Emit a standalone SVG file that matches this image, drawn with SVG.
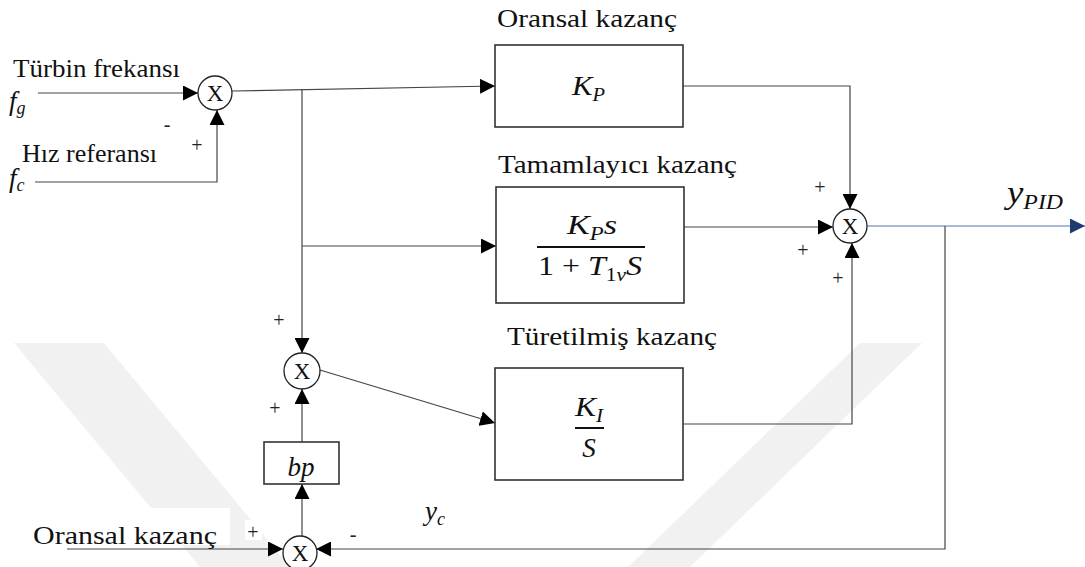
<svg xmlns="http://www.w3.org/2000/svg" width="1085" height="567" viewBox="0 0 1085 567">
  <defs>
    <style>
      .lbl { font-family: 'Liberation Serif', 'Times New Roman', serif; font-size: 25px; fill: #111; }
      .sign { font-family: 'Liberation Serif', 'Times New Roman', serif; font-size: 20px; fill: #222; text-anchor: middle; }
      .mul { font-family: 'Liberation Serif', 'Times New Roman', serif; font-size: 23px; fill: #111; text-anchor: middle; }
      .math { font-family: 'Liberation Serif', 'Times New Roman', serif; font-style: italic; font-size: 27px; fill: #111; }
      .up { font-style: normal; }
      .sub { font-size: 18px; }
      .box { fill: #fff; stroke: #333; stroke-width: 1.6; }
      .sum { fill: #fff; stroke: #222; stroke-width: 1.3; }
      .wire { fill: none; stroke: #454545; stroke-width: 1.2; }
      .bar { stroke: #111; stroke-width: 2; }
      .mark { fill: #f1f1f1; }
    </style>
    <marker id="arrow" viewBox="0 0 15 15" refX="15" refY="7.5" markerWidth="15" markerHeight="15" markerUnits="userSpaceOnUse" orient="auto">
      <path d="M0,0 L15,7.5 L0,15 Z" fill="#000"/>
    </marker>
    <marker id="arrowOut" viewBox="0 0 15 15" refX="15" refY="7.5" markerWidth="15" markerHeight="15" markerUnits="userSpaceOnUse" orient="auto">
      <path d="M0,0 L15,7.5 L0,15 Z" fill="#1f3a6e"/>
    </marker>
  </defs>

  <rect width="1085" height="567" fill="#fff"/>

  <!-- faint background emblem -->
  <g id="emblem">
    <polygon class="mark" points="14,343 104,343 290,567 200,567"/>
    <polygon class="mark" points="860,343 922,343 690,567 628,567"/>
  </g>

  <!-- connectors -->
  <g id="connectors">
    <path class="wire" d="M38,93 H198" marker-end="url(#arrow)"/>
    <path class="wire" d="M35,182 H217 V110" marker-end="url(#arrow)"/>
    <path class="wire" d="M232,91 L495,86" marker-end="url(#arrow)"/>
    <path class="wire" d="M302,89 V353" marker-end="url(#arrow)"/>
    <path class="wire" d="M302,246 H496" marker-end="url(#arrow)"/>
    <path class="wire" d="M683,86 H850 V209" marker-end="url(#arrow)"/>
    <path class="wire" d="M684,227 H833" marker-end="url(#arrow)"/>
    <path class="wire" d="M683,424 H852 V243" marker-end="url(#arrow)"/>
    <path d="M867,226 H1085" fill="none" stroke="#8fa3c6" stroke-width="1.4" marker-end="url(#arrowOut)"/>
    <path class="wire" d="M945,226 V549 H316" marker-end="url(#arrow)"/>
    <path class="wire" d="M67,549 H283" marker-end="url(#arrow)"/>
    <path class="wire" d="M302,536 V484" marker-end="url(#arrow)"/>
    <path class="wire" d="M302,442 V389" marker-end="url(#arrow)"/>
    <path class="wire" d="M320,370 L495,423" marker-end="url(#arrow)"/>
  </g>

  <!-- input labels -->
  <g id="inputs">
    <text class="lbl" x="13" y="77" textLength="167" lengthAdjust="spacingAndGlyphs">Türbin frekansı</text>
    <text class="math" x="9" y="110">f<tspan class="sub" dy="4">g</tspan></text>
    <text class="lbl" x="22" y="162" textLength="135" lengthAdjust="spacingAndGlyphs">Hız referansı</text>
    <text class="math" x="9" y="187">f<tspan class="sub" dy="4">c</tspan></text>
  </g>

  <!-- summing junction at the frequency inputs -->
  <g id="sum-input">
    <circle class="sum" cx="215" cy="93" r="17"/>
    <text class="mul" x="215" y="101">X</text>
    <text class="sign" x="167" y="131">-</text>
    <text class="sign" x="197" y="152">+</text>
  </g>

  <!-- proportional gain -->
  <g id="block-kp">
    <text class="lbl" x="497" y="27" textLength="180" lengthAdjust="spacingAndGlyphs">Oransal kazanç</text>
    <rect class="box" x="495" y="45" width="188" height="82"/>
    <text class="math" x="572" y="95" textLength="33" lengthAdjust="spacingAndGlyphs">K<tspan class="sub" dy="6">P</tspan></text>
  </g>

  <!-- complementary gain -->
  <g id="block-comp">
    <text class="lbl" x="498" y="173" textLength="239" lengthAdjust="spacingAndGlyphs">Tamamlayıcı kazanç</text>
    <rect class="box" x="496" y="187" width="188" height="116"/>
    <text class="math" x="567" y="234" textLength="50" lengthAdjust="spacingAndGlyphs">K<tspan class="sub" dy="6">P</tspan><tspan dy="-6">s</tspan></text>
    <line class="bar" x1="537" y1="247" x2="645" y2="247"/>
    <text class="math" x="538" y="275" textLength="104" lengthAdjust="spacingAndGlyphs"><tspan class="up">1 + </tspan>T<tspan class="sub up" dy="6">1</tspan><tspan class="sub">v</tspan><tspan dy="-6">S</tspan></text>
  </g>

  <!-- derivative gain -->
  <g id="block-ki">
    <rect x="500" y="322" width="222" height="30" fill="#fff"/>
    <text class="lbl" x="507" y="345" textLength="210" lengthAdjust="spacingAndGlyphs">Türetilmiş kazanç</text>
    <rect class="box" x="495" y="368" width="188" height="112"/>
    <text class="math" x="575" y="416" textLength="28" lengthAdjust="spacingAndGlyphs">K<tspan class="sub" dy="6">I</tspan></text>
    <line class="bar" x1="575" y1="428" x2="604" y2="428"/>
    <text class="math" x="589" y="457" text-anchor="middle">S</text>
  </g>

  <!-- output summing junction -->
  <g id="sum-output">
    <circle class="sum" cx="850" cy="226" r="17"/>
    <text class="mul" x="850" y="234">X</text>
    <text class="sign" x="820" y="194">+</text>
    <text class="sign" x="803" y="257">+</text>
    <text class="sign" x="838" y="285">+</text>
    <text class="math" x="1007" y="203" textLength="56" lengthAdjust="spacingAndGlyphs" style="font-size:31px">y<tspan class="sub" dy="6" style="font-size:20px">PID</tspan></text>
  </g>

  <!-- inner summing junction -->
  <g id="sum-inner">
    <circle class="sum" cx="302" cy="371" r="18"/>
    <text class="mul" x="302" y="379">X</text>
    <text class="sign" x="279" y="327">+</text>
    <text class="sign" x="275" y="415">+</text>
  </g>

  <!-- bp gain -->
  <g id="block-bp">
    <rect class="box" x="264" y="442" width="75" height="42"/>
    <text class="math" x="301" y="476" text-anchor="middle">bp</text>
  </g>

  <!-- lower summing junction -->
  <g id="sum-lower">
    <rect x="0" y="508" width="230" height="37" fill="#fff"/>
    <text class="lbl" x="33" y="544" textLength="184" lengthAdjust="spacingAndGlyphs">Oransal kazanç</text>
    <rect x="245" y="520" width="17" height="20" fill="#fff"/>
    <text class="sign" x="253" y="539">+</text>
    <circle class="sum" cx="300" cy="553" r="17"/>
    <text class="mul" x="300" y="561">X</text>
    <text class="sign" x="353" y="541">-</text>
    <rect x="419" y="495" width="49" height="38" fill="#fff"/>
    <text class="math" x="425" y="520">y<tspan class="sub" dy="5">c</tspan></text>
  </g>
</svg>
